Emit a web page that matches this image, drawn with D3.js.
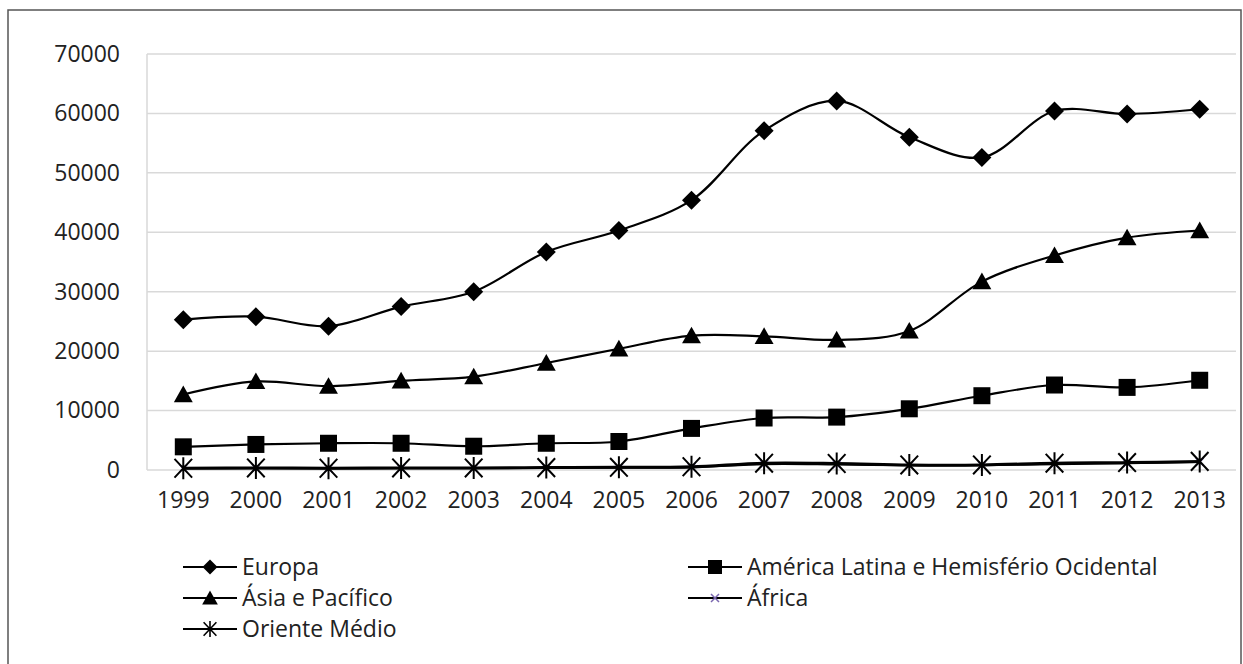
<!DOCTYPE html>
<html>
<head>
<meta charset="utf-8">
<script src="https://cdn.jsdelivr.net/npm/d3@7"></script>
<style>
  body { margin: 0; background: #fff; }
  text { font-family: "Open Sans", "Liberation Sans", sans-serif; fill: #222; }
</style>
</head>
<body>
<svg id="chart" width="1243" height="664"></svg>
<script>
// Years on the category axis
const years = ["1999","2000","2001","2002","2003","2004","2005","2006","2007","2008","2009","2010","2011","2012","2013"];
// Regional series
const europa   = [25300, 25800, 24200, 27500, 30000, 36700, 40300, 45400, 57100, 62100, 56000, 52600, 60400, 59900, 60700];
const asia     = [12700, 14900, 14100, 15000, 15700, 18000, 20400, 22600, 22500, 21900, 23400, 31700, 36100, 39100, 40300];
const americaLatina = [3900, 4300, 4500, 4500, 4000, 4500, 4800, 7000, 8750, 8900, 10300, 12500, 14300, 13900, 15100];
const africa   = [250, 300, 250, 300, 300, 350, 400, 450, 1000, 950, 800, 800, 1000, 1150, 1350];
const orienteMedio = [300, 350, 300, 350, 350, 400, 450, 550, 1150, 1100, 850, 850, 1150, 1250, 1450];
// Value axis ticks
const yTicks = [0, 10000, 20000, 30000, 40000, 50000, 60000, 70000];

const svg = d3.select("#chart");
const plot = { left: 147, right: 1236, top: 54, bottom: 470 };
const fontSize = 23;

const x = d3.scaleBand().domain(years).range([plot.left, plot.right]);
const cx = d => x(d) + x.bandwidth() / 2;
const y = d3.scaleLinear().domain([0, 70000]).range([plot.bottom, plot.top]);

// Outer chart frame
svg.append("rect")
  .attr("x", 8).attr("y", 10).attr("width", 1233).attr("height", 680)
  .attr("fill", "none").attr("stroke", "#555").attr("stroke-width", 1.5);

// Horizontal gridlines
svg.append("g").selectAll("line").data(yTicks).join("line")
  .attr("x1", plot.left).attr("x2", plot.right)
  .attr("y1", d => y(d)).attr("y2", d => y(d))
  .attr("stroke", "#d9d9d9").attr("stroke-width", 1.5);

// Left edge of the plot area
svg.append("line")
  .attr("x1", plot.left).attr("x2", plot.left)
  .attr("y1", plot.top).attr("y2", plot.bottom)
  .attr("stroke", "#d9d9d9").attr("stroke-width", 1.5);

// Value axis labels
const yAxis = svg.append("g")
  .attr("transform", `translate(${plot.left - 27},0)`)
  .call(d3.axisLeft(y).tickValues(yTicks).tickSize(0).tickPadding(0).tickFormat(d3.format("d")));
yAxis.select(".domain").remove();
yAxis.selectAll("text").attr("font-size", fontSize).attr("font-family", "Open Sans").attr("fill", "#222");

// Category axis labels
const xAxis = svg.append("g")
  .attr("transform", `translate(0,${plot.bottom})`)
  .call(d3.axisBottom(x).tickSize(0).tickPadding(22));
xAxis.select(".domain").remove();
xAxis.selectAll("text").attr("font-size", fontSize).attr("font-family", "Open Sans").attr("fill", "#222");

// Marker shapes
const markers = {
  diamond: s => `M0,${-s}L${s},0L0,${s}L${-s},0Z`,
  square: s => `M${-s},${-s}H${s}V${s}H${-s}Z`,
  triangle: s => `M0,${-s * 1.0}L${s * 1.05},${s * 0.85}L${-s * 1.05},${s * 0.85}Z`,
  cross: s => `M${-s},${-s}L${s},${s}M${s},${-s}L${-s},${s}`,
  star: s => `M0,${-s}V${s}M${-s * 0.8},${-s * 0.85}L${s * 0.8},${s * 0.85}M${s * 0.8},${-s * 0.85}L${-s * 0.8},${s * 0.85}`
};

const series = [
  { name: "Africa", label: "África", values: africa, shape: "cross", size: 4, fill: "none", stroke: "#7b68b0", sw: 1.5 },
  { name: "Oriente", label: "Oriente Médio", values: orienteMedio, shape: "star", size: 11, fill: "none", stroke: "#000", sw: 2 },
  { name: "America", label: "América Latina e Hemisfério Ocidental", values: americaLatina, shape: "square", size: 8.5, fill: "#000", stroke: "none", sw: 0 },
  { name: "Asia", label: "Ásia e Pacífico", values: asia, shape: "triangle", size: 9, fill: "#000", stroke: "none", sw: 0 },
  { name: "Europa", label: "Europa", values: europa, shape: "diamond", size: 9.5, fill: "#000", stroke: "none", sw: 0 }
];

const line = d3.line()
  .x(d => cx(d.year))
  .y(d => y(d.value))
  .curve(d3.curveCatmullRom.alpha(0.5));

series.forEach(s => {
  const pts = years.map((yr, i) => ({ year: yr, value: s.values[i] }));
  const g = svg.append("g");
  g.append("path").datum(pts)
    .attr("d", line)
    .attr("fill", "none")
    .attr("stroke", "#000")
    .attr("stroke-width", s.name === "Oriente" ? 3 : 2.2);
  g.selectAll("path.m").data(pts).join("path")
    .attr("class", "m")
    .attr("transform", d => `translate(${cx(d.year)},${y(d.value)})`)
    .attr("d", markers[s.shape](s.size))
    .attr("fill", s.fill)
    .attr("stroke", s.stroke)
    .attr("stroke-width", s.sw);
});

// Legend: two columns, entries in reading order
const legendItems = [
  { s: series[4], col: 0, row: 0 },
  { s: series[2], col: 1, row: 0 },
  { s: series[3], col: 0, row: 1 },
  { s: series[0], col: 1, row: 1 },
  { s: series[1], col: 0, row: 2 }
];
const colX = [183, 688];
const rowY = [567, 598, 629];
const legendScale = { diamond: 7.5, square: 7, triangle: 7.5, cross: 4, star: 8 };

legendItems.forEach(it => {
  const g = svg.append("g").attr("transform", `translate(${colX[it.col]},${rowY[it.row]})`);
  g.append("line").attr("x1", 0).attr("x2", 54).attr("y1", 0).attr("y2", 0)
    .attr("stroke", "#000").attr("stroke-width", 2);
  g.append("path")
    .attr("transform", "translate(27,0)")
    .attr("d", markers[it.s.shape](legendScale[it.s.shape]))
    .attr("fill", it.s.fill)
    .attr("stroke", it.s.stroke)
    .attr("stroke-width", it.s.shape === "star" ? 1.6 : it.s.sw);
  g.append("text").attr("x", 59).attr("y", 0).attr("dy", "0.35em")
    .attr("font-size", fontSize).text(it.s.label);
});
</script>
</body>
</html>
